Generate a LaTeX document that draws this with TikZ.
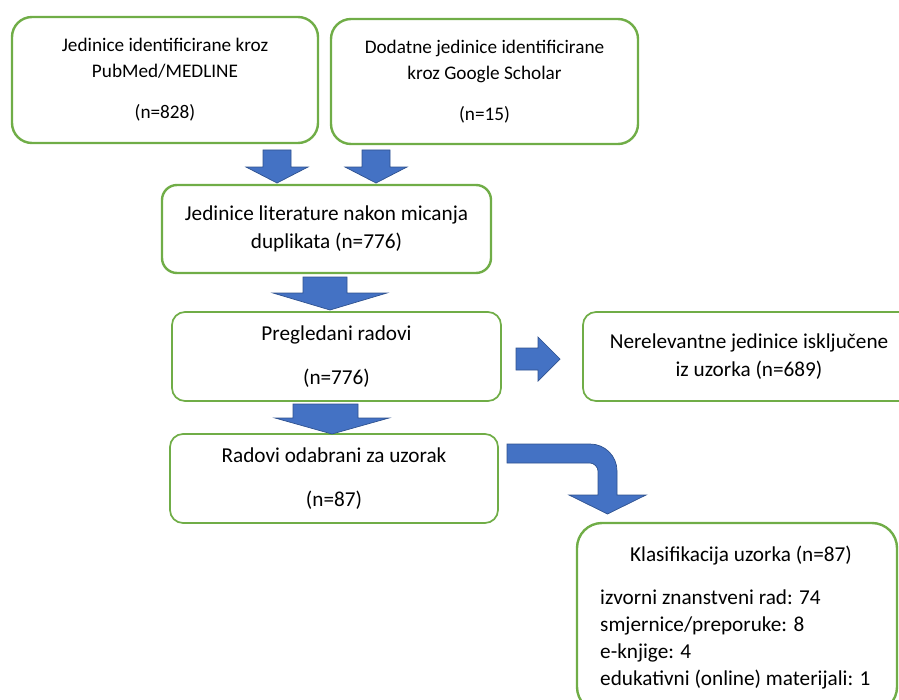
\documentclass[tikz,border=0pt]{standalone}
\usepackage{fontspec}
\setmainfont{Carlito}
\definecolor{boxgreen}{HTML}{70AD47}
\definecolor{arrowblue}{HTML}{4472C4}
\definecolor{arrowline}{HTML}{2F528F}
\tikzset{
  box/.style={draw=boxgreen,line width=2.4bp,rounded corners=20bp,inner sep=0pt,align=center},
  thinbox/.style={box,line width=1.7bp,rounded corners=13bp},
  smalltext/.style={font=\fontsize{19.3}{26}\selectfont},
  bigtext/.style={font=\fontsize{21.3}{28.5}\selectfont},
  blockarrow/.style={fill=arrowblue,draw=arrowline,line width=0.7bp,line join=miter}
}
\begin{document}
\begin{tikzpicture}[x=1bp,y=-1bp]
            \clip (0,0) rectangle (899,700);
            % izvori
            \node[box,smalltext,minimum width=306bp,minimum height=126bp] (pubmed) at (165,80)
              {Jedinice identificirane kroz\\PubMed/MEDLINE\\[15bp](n=828)};
            \node[box,smalltext,minimum width=307bp,minimum height=125bp] (scholar) at (484.5,81.5)
              {Dodatne jedinice identificirane\\kroz Google Scholar\\[15bp](n=15)};
            \node[box,bigtext,rounded corners=15bp,minimum width=329bp,minimum height=88bp] (duplikati) at (326.5,229)
              {Jedinice literature nakon micanja\\duplikata (n=776)};
            \node[thinbox,bigtext,minimum width=329bp,minimum height=89bp] (pregledani) at (336.5,356.5)
              {Pregledani radovi\\[15bp](n=776)};
            \node[thinbox,bigtext,minimum width=328bp,minimum height=89bp] (odabrani) at (334,478.5)
              {Radovi odabrani za uzorak\\[15bp](n=87)};
            \node[thinbox,bigtext,minimum width=332bp,minimum height=89bp] (iskljucene) at (749,356.5)
              {Nerelevantne jedinice isključene\\iz uzorka (n=689)};
            \node[box,rounded corners=25bp,minimum width=320bp,minimum height=189bp] (klasifikacija) at (737,617.5) {};
            \node[bigtext] (klasnaslov) at (741,556) {Klasifikacija uzorka (n=87)};
            \node[bigtext,inner sep=0pt,anchor=north west,align=left] (klaspopis) at (600,590)
              {izvorni znanstveni rad: 74\\[-1.5bp]smjernice/preporuke: 8\\[-1.5bp]e-knjige: 4\\[-1.5bp]edukativni (online) materijali: 1};
            % strelice
            \filldraw[blockarrow] (263,150) -- (291,150) -- (291,167) -- (308,167) -- (277,183) -- (246,167) -- (263,167) -- cycle;
            \filldraw[blockarrow] (362,150) -- (390,150) -- (390,167) -- (407,167) -- (376,183) -- (345,167) -- (362,167) -- cycle;
            \filldraw[blockarrow] (303,277) -- (347,277) -- (347,293) -- (387,293) -- (330,310) -- (273,293) -- (303,293) -- cycle;
            \filldraw[blockarrow] (293,404) -- (358,404) -- (358,418) -- (389,418) -- (332,434) -- (275,418) -- (293,418) -- cycle;
            \filldraw[blockarrow] (516,348) -- (538,348) -- (538,337) -- (560,359) -- (538,381) -- (538,370) -- (516,370) -- cycle;
            \filldraw[blockarrow] (507,444) -- (590,444) .. controls (605,444) and (617,456) .. (617,471)
              -- (617,495) -- (646,495) -- (607.5,514) -- (569,495) -- (598,495) -- (598,471)
              .. controls (598,467) and (594,463) .. (590,463) -- (507,463) -- cycle;
        \end{tikzpicture}
\end{document}
